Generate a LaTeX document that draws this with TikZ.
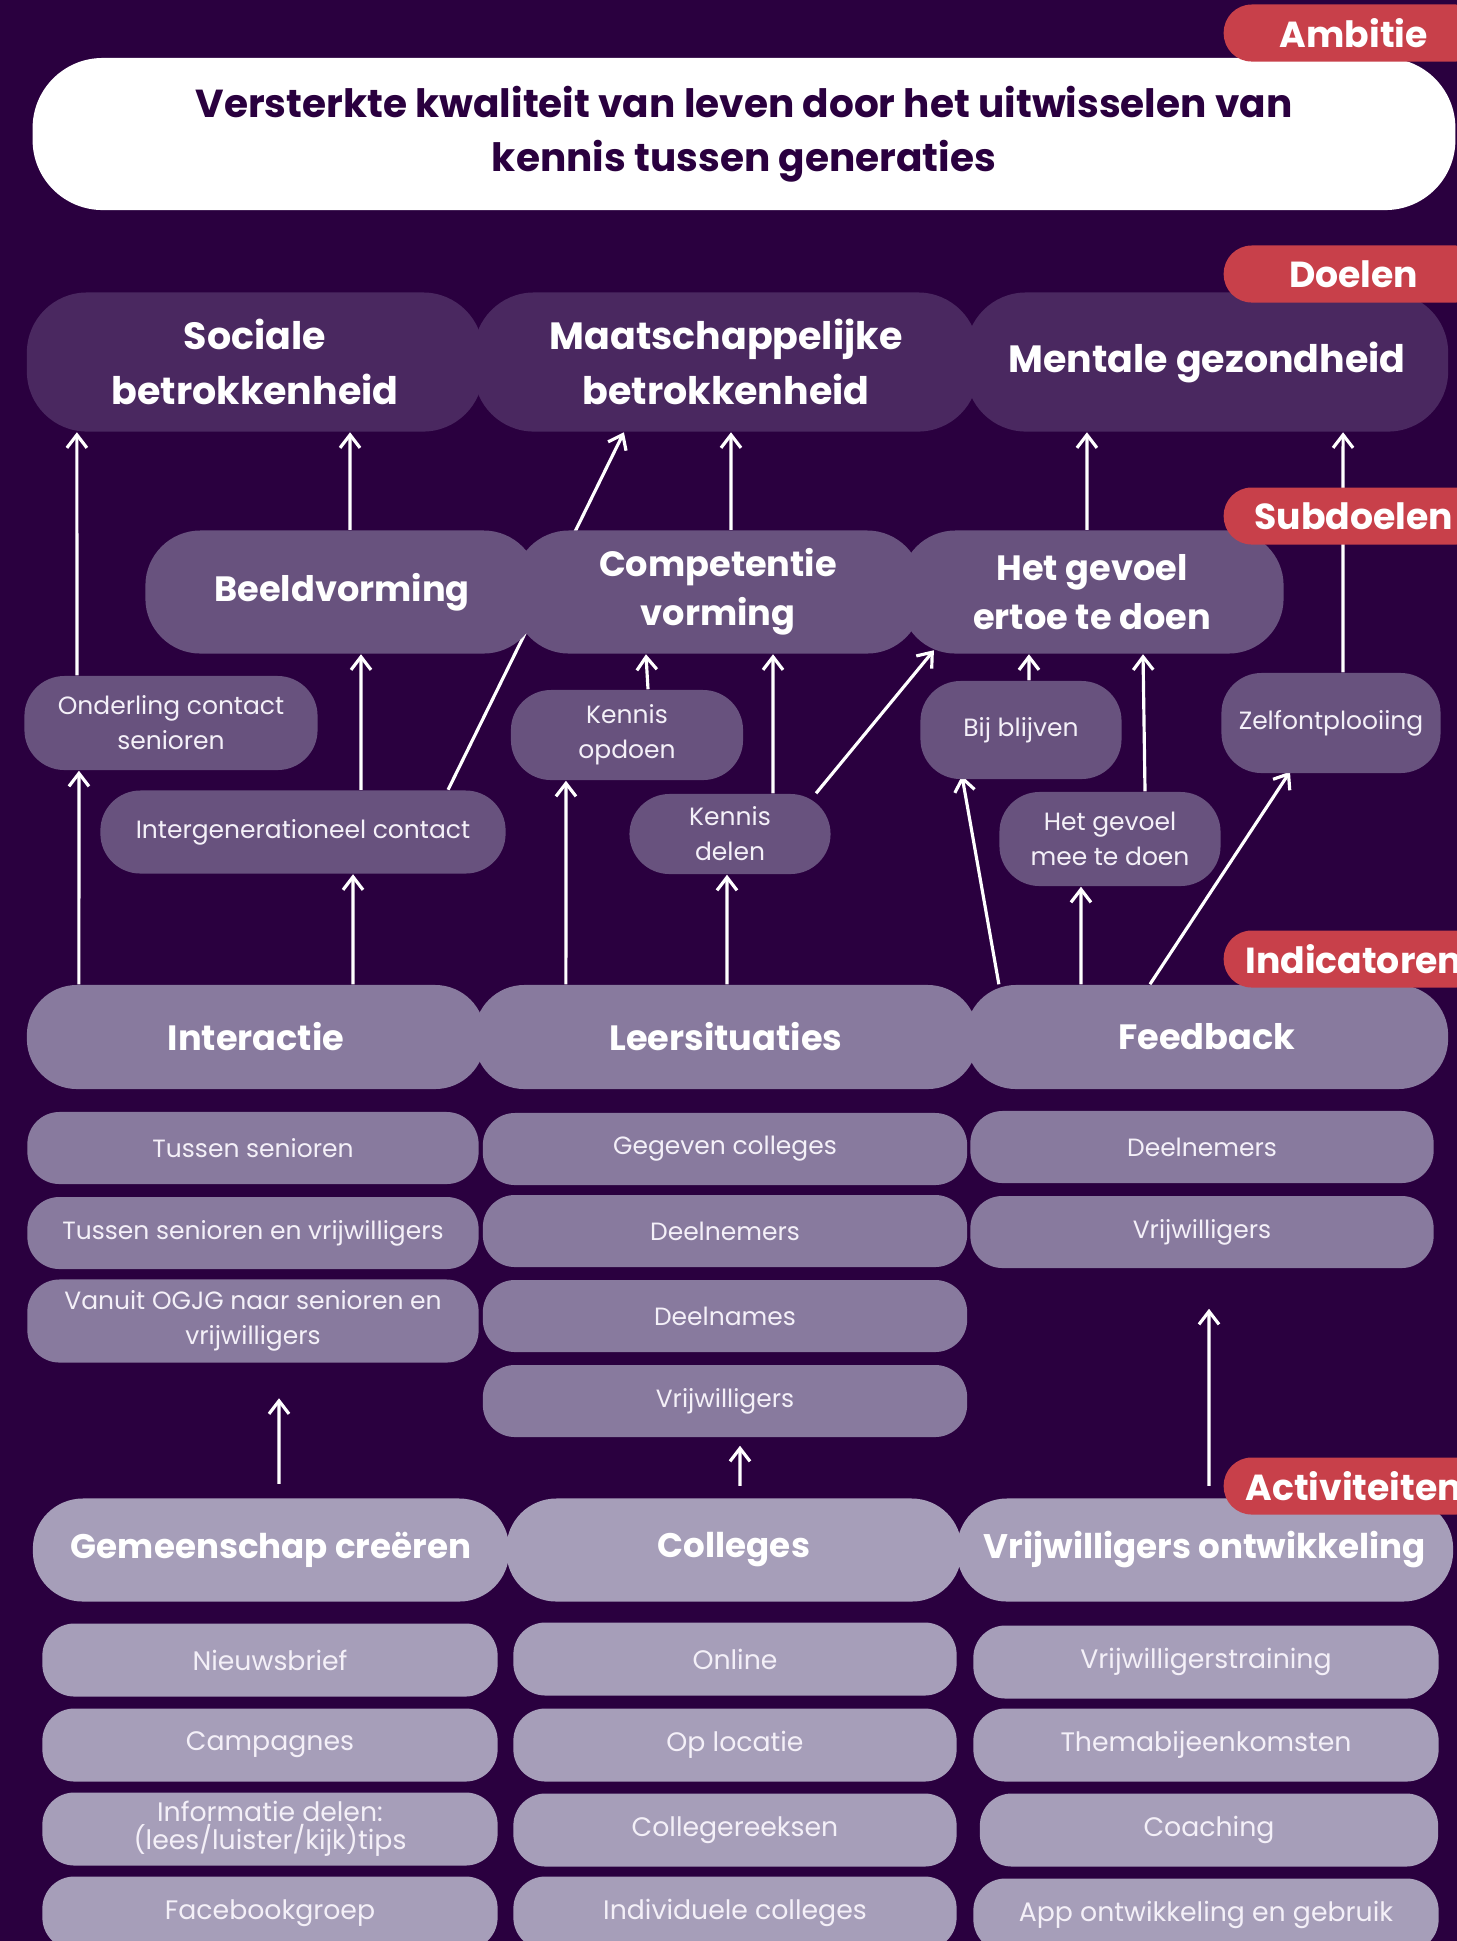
\documentclass[tikz,border=0pt]{standalone}
\usepackage{fontspec}
\setmainfont{Poppins}
\usetikzlibrary{arrows.meta}

\definecolor{achtergrond}{HTML}{2A003F}
\definecolor{doelkleur}{HTML}{4A2860}
\definecolor{subkleur}{HTML}{68527E}
\definecolor{indkleur}{HTML}{887A9E}
\definecolor{actkleur}{HTML}{A69EB9}
\definecolor{rood}{HTML}{C8404A}
\definecolor{licht}{HTML}{F4F0F8}

\pgfdeclarelayer{achter}
\pgfdeclarelayer{pijlen}
\pgfsetlayers{achter,pijlen,main}

\tikzset{
  vak/.style={rectangle, inner sep=0pt, align=center, text=white},
  doel/.style={vak, fill=doelkleur, rounded corners=0.6cm, minimum height=1.39cm, font=\bfseries\fontsize{10.8}{15.5}\selectfont},
  subdoel/.style={vak, fill=subkleur, rounded corners=0.55cm, minimum height=1.23cm, font=\bfseries\fontsize{10}{14}\selectfont},
  klein/.style={vak, fill=subkleur, rounded corners=0.4cm, text=licht, font=\fontsize{7.1}{10}\selectfont},
  indicator/.style={vak, fill=indkleur, rounded corners=0.5cm, minimum height=1.04cm, font=\bfseries\fontsize{10}{14}\selectfont},
  indsub/.style={vak, fill=indkleur, rounded corners=0.32cm, minimum height=0.72cm, text=licht, font=\fontsize{7.1}{10}\selectfont},
  activiteit/.style={vak, fill=actkleur, rounded corners=0.5cm, minimum height=1.03cm, font=\bfseries\fontsize{9.7}{14}\selectfont},
  actsub/.style={vak, fill=actkleur, rounded corners=0.32cm, minimum height=0.73cm, text=licht, font=\fontsize{7.6}{8}\selectfont},
  rodetag/.style={rectangle, fill=rood, rounded corners=0.28cm, minimum width=2.6cm, minimum height=0.57cm, inner sep=0pt, anchor=west, text=white, font=\bfseries\fontsize{10.3}{12}\selectfont},
  pijl/.style={draw=white, line width=0.9pt, -{Straight Barb[length=1.3mm,width=2mm]}}
}

\begin{document}
\begin{tikzpicture}[x=0.01cm,y=-0.01cm]
		\useasboundingbox (0,0) rectangle (1457,1941);
		\begin{pgfonlayer}{achter}
		\fill[achtergrond] (0,0) rectangle (1457,1941);
		\end{pgfonlayer}
		%ambitie
		\node[vak,fill=white,text=achtergrond,rounded corners=0.7cm,minimum width=14.22cm,minimum height=1.52cm,font=\bfseries\fontsize{11.1}{15.4}\selectfont] (Ambitie) at (744,134) {Versterkte kwaliteit van leven door het uitwisselen van\\kennis tussen generaties};
		%doelen
		\node[doel,minimum width=4.56cm] (Sociale) at (255,362) {Sociale\\betrokkenheid};
		\node[doel,minimum width=5.04cm] (Maatschappelijk) at (726,362) {Maatschappelijke\\betrokkenheid};
		\node[doel,minimum width=4.82cm] (Mentaal) at (1207,362) {Mentale gezondheid};
		%subdoelen
		\node[subdoel,minimum width=3.93cm] (Beeld) at (342,592) {Beeldvorming};
		\node[subdoel,minimum width=4.08cm] (Competentie) at (718,592) {Competentie\\vorming};
		\node[subdoel,minimum width=3.83cm] (Ertoe) at (1092,592) {Het gevoel\\ertoe te doen};
		\node[klein,minimum width=2.93cm,minimum height=0.94cm] (Onderling) at (171,723) {Onderling contact\\senioren};
		\node[klein,minimum width=4.05cm,minimum height=0.83cm] (Intergen) at (303,832) {Intergenerationeel contact};
		\node[klein,minimum width=2.32cm,minimum height=0.90cm] (Opdoen) at (627,735) {Kennis\\opdoen};
		\node[klein,minimum width=2.01cm,minimum height=0.80cm] (Delen) at (730,834) {Kennis\\delen};
		\node[klein,minimum width=2.01cm,minimum height=0.98cm] (Bijblijven) at (1021,730) {Bij blijven};
		\node[klein,minimum width=2.21cm,minimum height=0.94cm] (Meedoen) at (1110,839) {Het gevoel\\mee te doen};
		\node[klein,minimum width=2.19cm,minimum height=1.00cm] (Zelf) at (1331,723) {Zelfontplooiing};
		%indicatoren
		\node[indicator,minimum width=4.58cm] (Interactie) at (256,1037) {Interactie};
		\node[indicator,minimum width=5.03cm] (Leer) at (726,1037) {Leersituaties};
		\node[indicator,minimum width=4.82cm] (Feedback) at (1207,1037) {Feedback};
		\node[indsub,minimum width=4.51cm] (TussenSen) at (253,1148) {Tussen senioren};
		\node[indsub,minimum width=4.51cm] (TussenVrij) at (253,1233) {Tussen senioren en vrijwilligers};
		\node[indsub,minimum width=4.51cm,minimum height=0.83cm] (Vanuit) at (253,1321) {Vanuit OGJG naar senioren en\\vrijwilligers};
		\node[indsub,minimum width=4.84cm] (Gegeven) at (725,1149) {Gegeven colleges};
		\node[indsub,minimum width=4.84cm] (DeelnL) at (725,1231) {Deelnemers};
		\node[indsub,minimum width=4.84cm] (Deelnames) at (725,1316) {Deelnames};
		\node[indsub,minimum width=4.84cm] (VrijwL) at (725,1401) {Vrijwilligers};
		\node[indsub,minimum width=4.63cm] (DeelnF) at (1202,1147) {Deelnemers};
		\node[indsub,minimum width=4.63cm] (VrijwF) at (1202,1232) {Vrijwilligers};
		%activiteiten
		\node[activiteit,minimum width=4.76cm] (Gemeenschap) at (271,1550) {Gemeenschap creëren};
		\node[activiteit,minimum width=4.55cm] (Colleges) at (734,1550) {Colleges};
		\node[activiteit,minimum width=4.96cm] (Ontwikkeling) at (1205,1550) {Vrijwilligers ontwikkeling};
		\node[actsub,minimum width=4.55cm] (Nieuwsbrief) at (270,1660) {Nieuwsbrief};
		\node[actsub,minimum width=4.55cm] (Campagnes) at (270,1745) {Campagnes};
		\node[actsub,minimum width=4.55cm] (Informatie) at (270,1829) {Informatie delen:\\(lees/luister/kijk)tips};
		\node[actsub,minimum width=4.55cm] (Facebook) at (270,1913) {Facebookgroep};
		\node[actsub,minimum width=4.43cm] (Online) at (735,1659) {Online};
		\node[actsub,minimum width=4.43cm] (Locatie) at (735,1745) {Op locatie};
		\node[actsub,minimum width=4.43cm] (Reeksen) at (735,1830) {Collegereeksen};
		\node[actsub,minimum width=4.43cm] (Individueel) at (735,1913) {Individuele colleges};
		\node[actsub,minimum width=4.65cm] (Training) at (1206,1662) {Vrijwilligerstraining};
		\node[actsub,minimum width=4.65cm] (Thema) at (1206,1745) {Themabijeenkomsten};
		\node[actsub,minimum width=4.58cm] (Coaching) at (1209,1830) {Coaching};
		\node[actsub,minimum width=4.65cm] (App) at (1206,1915) {App ontwikkeling en gebruik};
		%pijlen
		\begin{pgfonlayer}{pijlen}
		\draw[pijl] ([xshift=-0.94cm]Onderling.north) -- ([xshift=-1.78cm]Sociale.south);
		\draw[pijl] ([xshift=0.08cm]Beeld.north) -- ([xshift=0.95cm]Sociale.south);
		\draw[pijl] ([xshift=1.45cm]Intergen.north) -- ([xshift=-1.02cm]Maatschappelijk.south);
		\draw[pijl] ([xshift=0.13cm]Competentie.north) -- ([xshift=0.05cm]Maatschappelijk.south);
		\draw[pijl] ([xshift=-0.05cm]Ertoe.north) -- ([xshift=-1.20cm]Mentaal.south);
		\draw[pijl] ([xshift=0.12cm]Zelf.north) -- ([xshift=1.36cm]Mentaal.south);
		\draw[pijl] ([xshift=0.58cm]Intergen.north) -- ([xshift=0.19cm]Beeld.south);
		\draw[pijl] ([xshift=0.21cm]Opdoen.north) -- ([xshift=-0.72cm]Competentie.south);
		\draw[pijl] ([xshift=0.43cm]Delen.north) -- ([xshift=0.55cm]Competentie.south);
		\draw[pijl] ([xshift=0.86cm]Delen.north) -- ([xshift=-1.58cm,yshift=0.04cm]Ertoe.south);
		\draw[pijl] ([xshift=0.08cm]Bijblijven.north) -- ([xshift=-0.63cm]Ertoe.south);
		\draw[pijl] ([xshift=0.35cm]Meedoen.north) -- ([xshift=0.51cm]Ertoe.south);
		\draw[pijl] ([xshift=-1.77cm]Interactie.north) -- ([xshift=-0.92cm]Onderling.south);
		\draw[pijl] ([xshift=0.97cm]Interactie.north) -- ([xshift=0.50cm]Intergen.south);
		\draw[pijl] ([xshift=-1.60cm]Leer.north) -- ([xshift=-0.61cm]Opdoen.south);
		\draw[pijl] ([xshift=0.01cm]Leer.north) -- ([xshift=-0.03cm]Delen.south);
		\draw[pijl] ([xshift=-2.08cm]Feedback.north) -- ([xshift=-0.59cm,yshift=0.04cm]Bijblijven.south);
		\draw[pijl] ([xshift=-1.26cm]Feedback.north) -- ([xshift=-0.29cm]Meedoen.south);
		\draw[pijl] ([xshift=-0.57cm]Feedback.north) -- ([xshift=-0.41cm,yshift=0.02cm]Zelf.south);
		\draw[pijl,shorten <=0.14cm,shorten >=0.35cm] ([xshift=0.08cm]Gemeenschap.north) -- ([xshift=0.26cm]Vanuit.south);
		\draw[pijl,shorten <=0.12cm,shorten >=0.08cm] ([xshift=0.06cm]Colleges.north) -- ([xshift=0.15cm]VrijwL.south);
		\draw[pijl,shorten <=0.12cm,shorten >=0.40cm] ([xshift=0.04cm]Ontwikkeling.north) -- ([xshift=0.07cm]VrijwF.south);
		\end{pgfonlayer}
		%labels
		\node[rodetag] (TagAmbitie) at (1223,33) {Ambitie};
		\node[rodetag] (TagDoelen) at (1223,274) {Doelen};
		\node[rodetag] (TagSub) at (1223,516) {Subdoelen};
		\node[rodetag] (TagInd) at (1223,959) {Indicatoren};
		\node[rodetag] (TagAct) at (1223,1486) {Activiteiten};
	\end{tikzpicture}
\end{document}
